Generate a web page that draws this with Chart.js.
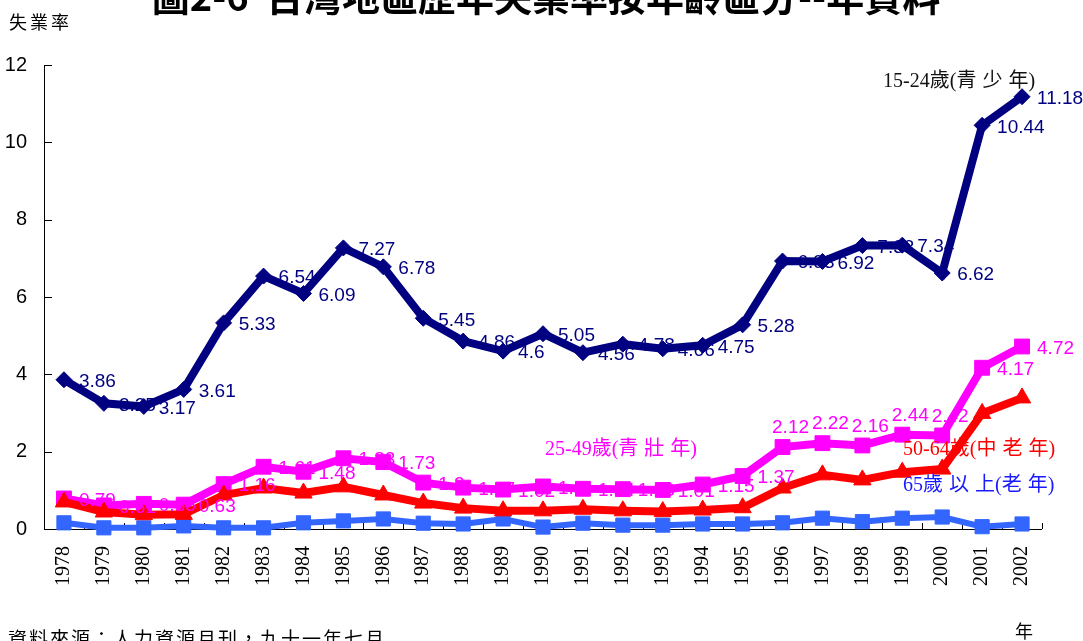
<!DOCTYPE html>
<html>
<head>
<meta charset="utf-8">
<script src="https://cdn.jsdelivr.net/npm/chart.js@4.4.0/dist/chart.umd.min.js"></script>
<style>
  html, body { margin: 0; padding: 0; background: #fff; }
  #wrap { width: 1083px; height: 641px; position: relative; }
</style>
</head>
<body>
<div id="wrap"><canvas id="chart"></canvas></div>
<script>
const years = ['1978', '1979', '1980', '1981', '1982', '1983', '1984', '1985', '1986', '1987', '1988', '1989', '1990',
    '1991', '1992', '1993', '1994', '1995', '1996', '1997', '1998', '1999', '2000', '2001', '2002'];

// unemployment rate (%) by age group
const youth = [3.86, 3.25, 3.17, 3.61, 5.33, 6.54, 6.09, 7.27, 6.78, 5.45, 4.86, 4.6, 5.05,
    4.56, 4.78, 4.66, 4.75, 5.28, 6.93, 6.92, 7.33, 7.34, 6.62, 10.44, 11.18];
const prime = [0.79, 0.61, 0.65, 0.63, 1.16, 1.61, 1.48, 1.83, 1.73, 1.2, 1.07, 1.02, 1.1,
    1.04, 1.03, 1.01, 1.15, 1.37, 2.12, 2.22, 2.16, 2.44, 2.42, 4.17, 4.72];
const middle = [0.7, 0.44, 0.37, 0.38, 0.88, 1.06, 0.93, 1.09, 0.88, 0.67, 0.54, 0.47, 0.47,
    0.51, 0.47, 0.45, 0.49, 0.55, 1.06, 1.4, 1.27, 1.47, 1.55, 2.99, 3.39];
const elderly = [0.16, 0.03, 0.03, 0.08, 0.03, 0.03, 0.16, 0.21, 0.26, 0.15, 0.13, 0.26, 0.05,
    0.15, 0.1, 0.1, 0.13, 0.13, 0.16, 0.28, 0.19, 0.28, 0.31, 0.06, 0.13];

const yTicks = [0, 2, 4, 6, 8, 10, 12];

// years whose 25-49 value label sits above the marker instead of to its right
const primeLabelsAbove = ['1996', '1997', '1998', '1999', '2000'];

const navy = '#000080';
const magenta = '#FF00FF';
const red = '#FF0000';
const blue = '#3366FF';

const serif = '"Liberation Serif", "Times New Roman", "Noto Sans CJK TC", serif';
const cjk = '"Noto Sans CJK TC", sans-serif';

// series names written inside the plot, anchored at (category index, value)
const seriesNotes = [
    { text: '15-24歲(青少年)', color: '#111111', at: [20.52, 11.56] },
    { text: '25-49歲(青壯年)', color: magenta, at: [12.05, 2.04] },
    { text: '50-64歲(中老年)', color: red, at: [21.02, 2.04] },
    { text: '65歲以上(老年)', color: '#1a1aff', at: [21.02, 1.11] }
];

// write text char by char, leaving a wider gap between two CJK glyphs
function spacedText(ctx, text, x, y, gap) {
    const isCjk = ch => /[\u3000-\u9fff\uff00-\uffef]/.test(ch);
    const chars = Array.from(text);
    chars.forEach((ch, i) => {
        ctx.fillText(ch, x, y);
        x += ctx.measureText(ch).width;
        if (isCjk(ch) && i + 1 < chars.length && isCjk(chars[i + 1])) x += gap;
    });
}

const decorations = {
    id: 'decorations',
    beforeDatasetsDraw(chart) {
        const ctx = chart.ctx;
        const xs = chart.scales.x;
        const ys = chart.scales.y;
        const area = chart.chartArea;
        ctx.save();
        ctx.strokeStyle = '#000';
        ctx.lineWidth = 1;
        ctx.beginPath();
        // axes
        ctx.moveTo(Math.round(area.left) + 0.5, area.top);
        ctx.lineTo(Math.round(area.left) + 0.5, Math.round(area.bottom) + 0.5);
        ctx.lineTo(area.right, Math.round(area.bottom) + 0.5);
        // inner ticks
        yTicks.forEach(v => {
            const y = Math.round(ys.getPixelForValue(v)) + 0.5;
            ctx.moveTo(area.left, y);
            ctx.lineTo(area.left + 8, y);
        });
        for (let k = 0; k <= years.length; k++) {
            const x = Math.round(xs.getPixelForValue(k - 0.5)) + 0.5;
            ctx.moveTo(x, area.bottom);
            ctx.lineTo(x, area.bottom - 6);
        }
        ctx.stroke();
        ctx.restore();
    },
    afterDatasetsDraw(chart) {
        const ctx = chart.ctx;
        ctx.save();
        ctx.font = '19px "Liberation Sans", Arial, sans-serif';
        ctx.textBaseline = 'middle';
        chart.data.datasets.forEach((ds, i) => {
            if (!ds.showValues) return;
            const meta = chart.getDatasetMeta(i);
            ctx.fillStyle = ds.borderColor;
            meta.data.forEach((pt, j) => {
                const text = String(ds.data[j]);
                if (ds.labelsAbove && ds.labelsAbove.includes(years[j])) {
                    ctx.textAlign = 'center';
                    ctx.fillText(text, pt.x + 8, pt.y - 19);
                } else {
                    ctx.textAlign = 'left';
                    ctx.fillText(text, pt.x + 15, pt.y + 2);
                }
            });
        });

        const xs = chart.scales.x;
        const ys = chart.scales.y;
        ctx.font = '20px ' + serif;
        ctx.textAlign = 'left';
        seriesNotes.forEach(n => {
            ctx.fillStyle = n.color;
            spacedText(ctx, n.text, xs.getPixelForValue(n.at[0]), ys.getPixelForValue(n.at[1]), 6);
        });
        ctx.restore();
    },
    afterDraw(chart) {
        const ctx = chart.ctx;
        ctx.save();
        ctx.fillStyle = '#000';
        ctx.textBaseline = 'alphabetic';
        ctx.textAlign = 'center';
        ctx.font = 'bold 38px ' + cjk;
        ctx.fillText('圖2-6  台灣地區歷年失業率按年齡區分--年資料', 546, 11);

        ctx.textAlign = 'left';
        ctx.textBaseline = 'middle';
        ctx.font = '18px ' + cjk;
        ctx.letterSpacing = '3px';
        ctx.fillText('失業率', 9, 22);

        ctx.textBaseline = 'top';
        ctx.font = '19px ' + cjk;
        ctx.letterSpacing = '2px';
        ctx.fillText('資料來源：人力資源月刊，九十一年七月', 8, 629);
        ctx.letterSpacing = '0px';

        ctx.textAlign = 'center';
        ctx.textBaseline = 'middle';
        ctx.font = '18px ' + cjk;
        ctx.fillText('年', 1024, 631);
        ctx.restore();
    }
};

new Chart(document.getElementById('chart'), {
    type: 'line',
    data: {
        labels: years,
        datasets: [{
            label: '15-24歲(青少年)',
            data: youth,
            borderColor: navy,
            backgroundColor: navy,
            borderWidth: 8,
            pointStyle: 'rectRot',
            pointRadius: 8,
            pointBorderWidth: 1,
            showValues: true,
            order: 0
        }, {
            label: '25-49歲(青壯年)',
            data: prime,
            borderColor: magenta,
            backgroundColor: magenta,
            borderWidth: 8,
            pointStyle: 'rect',
            pointRadius: 10.5,
            pointBorderWidth: 1,
            showValues: true,
            labelsAbove: primeLabelsAbove,
            order: 2
        }, {
            label: '50-64歲(中老年)',
            data: middle,
            borderColor: red,
            backgroundColor: red,
            borderWidth: 8,
            pointStyle: 'triangle',
            pointRadius: 10,
            pointBorderWidth: 1,
            order: 1
        }, {
            label: '65歲以上(老年)',
            data: elderly,
            borderColor: blue,
            backgroundColor: blue,
            borderWidth: 6,
            pointStyle: 'rect',
            pointRadius: 10,
            pointBorderWidth: 1,
            order: 3
        }]
    },
    options: {
        responsive: true,
        maintainAspectRatio: false,
        animation: false,
        clip: false,
        datasets: { line: { clip: false, tension: 0 } },
        layout: { padding: { top: 65, right: 41, left: 0, bottom: 0 } },
        plugins: {
            legend: { display: false },
            tooltip: { enabled: false }
        },
        scales: {
            x: {
                offset: true,
                grid: { display: false, drawTicks: false, offset: true },
                border: { display: false },
                ticks: {
                    autoSkip: false,
                    minRotation: 90,
                    maxRotation: 90,
                    padding: 17,
                    color: '#000',
                    font: { family: serif, size: 20 }
                },
                afterFit(scale) { scale.height = 112; }
            },
            y: {
                min: 0,
                max: 12,
                grid: { display: false, drawTicks: false },
                border: { display: false },
                ticks: {
                    stepSize: 2,
                    padding: 17,
                    color: '#000',
                    font: { family: '"Liberation Sans", Arial, sans-serif', size: 20 }
                },
                afterFit(scale) { scale.width = 44; }
            }
        }
    },
    plugins: [decorations]
});
</script>
</body>
</html>
